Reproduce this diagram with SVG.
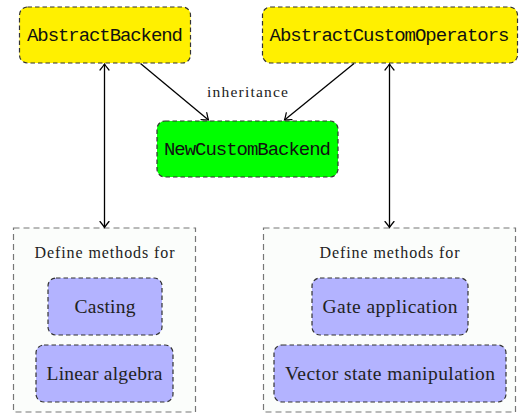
<svg xmlns="http://www.w3.org/2000/svg" width="519" height="414" viewBox="0 0 519 414">
<defs>
<marker id="ah" viewBox="-7 -6 9 12" refX="0" refY="0" markerWidth="9" markerHeight="12" markerUnits="userSpaceOnUse" orient="auto-start-reverse">
<path d="M-6,-4.5 Q-2,-1.2 0,0 Q-2,1.2 -6,4.5" fill="none" stroke="#000" stroke-width="1.2" stroke-linecap="round"/>
</marker>
</defs>
<style>
.node{stroke:#333;stroke-width:1.2;stroke-dasharray:4.5,3}
.yellow{fill:#fff000}
.green{fill:#00ff00}
.blue{fill:#b3b3ff}
.cont{fill:#fbfdfb;stroke:#777;stroke-width:1.2;stroke-dasharray:6,4}
.mono{font-family:"Liberation Mono",monospace;font-size:19px;fill:#111;text-anchor:middle}
.serif{font-family:"Liberation Serif",serif;fill:#222;text-anchor:middle}
.lbl{font-size:19.5px}
.small{font-size:16px}
.conn{stroke:#000;stroke-width:1.3;fill:none}
</style>
<g id="container-left">
<rect class="cont" x="13.5" y="228" width="182" height="184"/>
<text class="serif small" x="104.5" y="258" textLength="140">Define methods for</text>
</g>
<g id="container-right">
<rect class="cont" x="263.5" y="228" width="252" height="184"/>
<text class="serif small" x="389.5" y="258" textLength="140">Define methods for</text>
</g>
<g id="AbstractBackend">
<rect class="node yellow" x="19.5" y="7" width="171" height="56" rx="8"/>
<text class="mono" x="105" y="41" textLength="156">AbstractBackend</text>
</g>
<g id="AbstractCustomOperators">
<rect class="node yellow" x="262.5" y="7" width="255" height="56" rx="8"/>
<text class="mono" x="389.5" y="41" textLength="240">AbstractCustomOperators</text>
</g>
<g id="NewCustomBackend">
<rect class="node green" x="157" y="121" width="181" height="56" rx="8"/>
<text class="mono" x="247.5" y="155" textLength="167">NewCustomBackend</text>
</g>
<g id="Casting">
<rect class="node blue" x="48" y="278" width="114" height="57" rx="8"/>
<text class="serif lbl" x="105" y="312.5" textLength="61">Casting</text>
</g>
<g id="LinearAlgebra">
<rect class="node blue" x="36" y="345" width="137" height="57" rx="8"/>
<text class="serif lbl" x="104.5" y="379.5" textLength="116">Linear algebra</text>
</g>
<g id="GateApplication">
<rect class="node blue" x="312" y="278" width="156" height="57" rx="8"/>
<text class="serif lbl" x="390" y="312.5" textLength="135">Gate application</text>
</g>
<g id="VectorState">
<rect class="node blue" x="274" y="345" width="232" height="57" rx="8"/>
<text class="serif lbl" x="390" y="379.5" textLength="210">Vector state manipulation</text>
</g>
<g id="connectors">
<line class="conn" x1="140.5" y1="63.5" x2="208.5" y2="120" marker-end="url(#ah)"/>
<line class="conn" x1="354" y1="63.5" x2="284.5" y2="120" marker-end="url(#ah)"/>
<line class="conn" x1="104.5" y1="64" x2="104.5" y2="227.5" marker-start="url(#ah)" marker-end="url(#ah)"/>
<line class="conn" x1="389.5" y1="64" x2="389.5" y2="227.5" marker-start="url(#ah)" marker-end="url(#ah)"/>
<text class="serif" x="247.5" y="97" font-size="15.5" textLength="81">inheritance</text>
</g>
</svg>
